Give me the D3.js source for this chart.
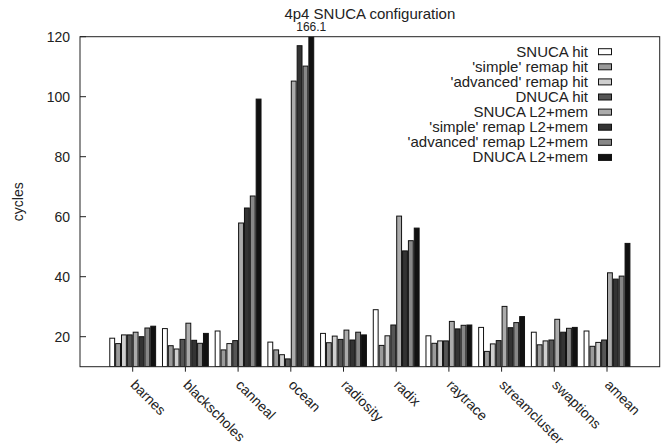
<!DOCTYPE html>
<html>
<head>
<meta charset="utf-8">
<script src="https://cdn.jsdelivr.net/npm/d3@7"></script>
<style>
  body { margin: 0; background: #fff; }
  text { font-family: "Liberation Sans", Arial, sans-serif; fill: #222; }
</style>
</head>
<body>
<svg id="chart" width="665" height="448"></svg>
<script>
const categories = ["barnes", "blackscholes", "canneal", "ocean", "radiosity", "radix", "raytrace", "streamcluster", "swaptions", "amean"];
const seriesNames = ["SNUCA hit", "'simple' remap hit", "'advanced' remap hit", "DNUCA hit",
  "SNUCA L2+mem", "'simple' remap L2+mem", "'advanced' remap L2+mem", "DNUCA L2+mem"];
const seriesColors = ["#ffffff", "#9a9a9a", "#cfcfcf", "#555555", "#ababab", "#333333", "#878787", "#111111"];

const snucaHit      = [19.5, 22.7, 21.9, 18.2, 21.1, 29.0, 20.3, 23.1, 21.5, 21.9];
const simpleHit     = [17.7, 17.0, 15.6, 15.6, 18.0, 17.1, 17.8, 15.1, 17.3, 16.8];
const advancedHit   = [20.6, 15.9, 17.7, 14.0, 20.2, 20.3, 18.6, 17.6, 18.6, 18.1];
const dnucaHit      = [20.6, 19.1, 18.7, 12.6, 19.1, 23.9, 18.6, 18.7, 18.9, 18.9];
const snucaMem      = [21.5, 24.5, 57.9, 105.2, 22.2, 60.2, 25.1, 30.1, 25.8, 41.3];
const simpleMem     = [20.0, 18.8, 62.9, 117.0, 18.9, 48.6, 22.6, 23.0, 21.5, 39.2];
const advancedMem   = [22.9, 17.8, 66.9, 110.2, 21.5, 52.0, 23.8, 24.7, 22.8, 40.2];
const dnucaMem      = [23.5, 21.1, 99.2, 166.1, 20.6, 56.2, 23.9, 26.7, 23.1, 51.1];
const yTicks = [20, 40, 60, 80, 100, 120];

const series = [snucaHit, simpleHit, advancedHit, dnucaHit, snucaMem, simpleMem, advancedMem, dnucaMem];

const svg = d3.select("#chart");
const plotL = 80, plotR = 659.7, plotT = 36.7, plotB = 366.7;

const x = d3.scaleLinear().domain([-1, 10]).range([plotL, plotR]);
const y = d3.scaleLinear().domain([10, 120]).range([plotB, plotT]);
const nSeries = series.length;
const slot = 1 / (nSeries + 1);
const barW = x(slot) - x(0);

svg.append("defs").append("clipPath").attr("id", "plotClip")
  .append("rect").attr("x", plotL).attr("y", plotT).attr("width", plotR - plotL).attr("height", plotB - plotT);

// bars
const bars = svg.append("g").attr("clip-path", "url(#plotClip)");
series.forEach((vals, s) => {
  bars.selectAll(null)
    .data(vals)
    .join("rect")
    .attr("x", (d, i) => x(i - (nSeries / 2) * slot + s * slot) + 0.5)
    .attr("y", d => y(d))
    .attr("width", barW - 1)
    .attr("height", d => plotB - y(d))
    .attr("fill", seriesColors[s])
    .attr("stroke", "#111")
    .attr("stroke-width", 1);
});

// label for clipped bar
const oceanIdx = categories.indexOf("ocean");
svg.append("text")
  .attr("x", x(oceanIdx - (nSeries / 2) * slot + 7.5 * slot))
  .attr("y", 31)
  .attr("text-anchor", "middle")
  .style("font-size", "12px")
  .text(d3.format(".1f")(dnucaMem[oceanIdx]));

// frame
svg.append("rect")
  .attr("x", plotL).attr("y", plotT)
  .attr("width", plotR - plotL).attr("height", plotB - plotT)
  .attr("fill", "none").attr("stroke", "#222").attr("stroke-width", 1);

// y ticks
const yAxis = svg.append("g");
yTicks.forEach(t => {
  yAxis.append("line").attr("x1", plotL).attr("x2", plotL + 6)
    .attr("y1", y(t)).attr("y2", y(t)).attr("stroke", "#222");
  yAxis.append("text").attr("x", plotL - 10).attr("y", y(t))
    .attr("text-anchor", "end").attr("dominant-baseline", "central")
    .style("font-size", "14px").text(t);
});

// x ticks and rotated labels
const xAxis = svg.append("g");
categories.forEach((c, i) => {
  xAxis.append("line").attr("x1", x(i)).attr("x2", x(i))
    .attr("y1", plotB).attr("y2", plotB + 5).attr("stroke", "#222");
  xAxis.append("text")
    .attr("transform", `translate(${x(i) - 3},${plotB + 19}) rotate(45)`)
    .attr("text-anchor", "start")
    .style("font-size", "14px")
    .text(c);
});

// axis title
svg.append("text")
  .attr("transform", `translate(23,${(plotT + plotB) / 2}) rotate(-90)`)
  .attr("text-anchor", "middle")
  .style("font-size", "14px")
  .text("cycles");

// title
svg.append("text")
  .attr("x", (plotL + plotR) / 2).attr("y", 19)
  .attr("text-anchor", "middle")
  .style("font-size", "15px")
  .text("4p4 SNUCA configuration");

// legend
const legend = svg.append("g");
seriesNames.forEach((name, s) => {
  const ly = 51.7 + s * 15.1;
  legend.append("text").attr("x", 588).attr("y", ly + 5)
    .attr("text-anchor", "end").style("font-size", "15px").text(name);
  legend.append("rect").attr("x", 598.5).attr("y", ly - 3)
    .attr("width", 13).attr("height", 6)
    .attr("fill", seriesColors[s]).attr("stroke", "#111");
});
</script>
</body>
</html>
